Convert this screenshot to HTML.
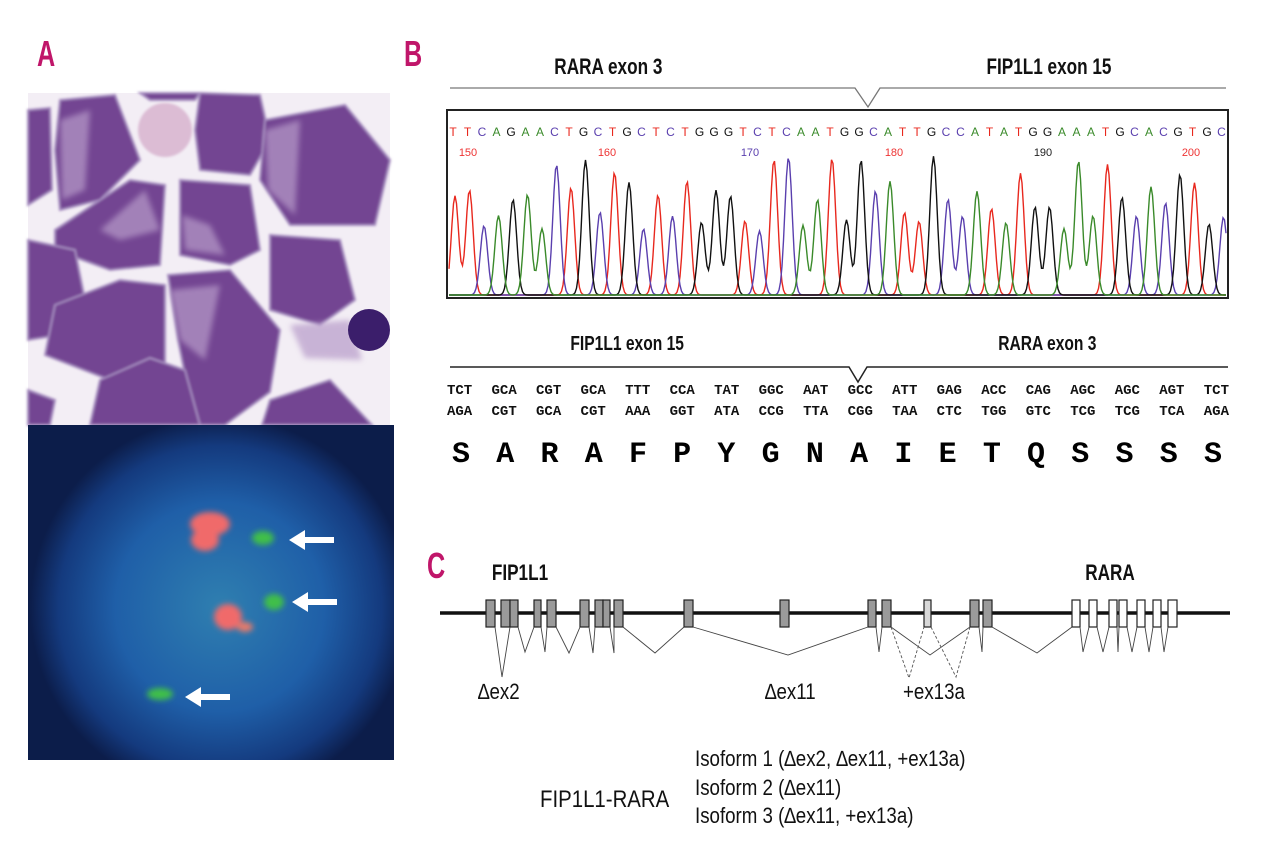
<!DOCTYPE html>
<html><head><meta charset="utf-8">
<style>
html,body{margin:0;padding:0;background:#fff;}
body{width:1280px;height:862px;position:relative;overflow:hidden;font-family:"Liberation Sans",sans-serif;}
.t{position:absolute;white-space:nowrap;}
.lbl{color:#c0166a;font-weight:bold;font-size:36px;transform:scaleX(0.7);transform-origin:left top;}
.hd{font-weight:bold;font-size:22px;transform:scaleX(0.78);transform-origin:center top;color:#111;}
.row{position:absolute;left:447px;width:782px;display:flex;justify-content:space-between;font-family:"Liberation Mono",monospace;font-weight:bold;font-size:14px;color:#111;}
.aa{position:absolute;left:447px;width:770px;display:flex;justify-content:space-between;font-family:"Liberation Mono",monospace;font-weight:bold;font-size:30px;color:#000;}
.iso{font-size:22px;color:#111;transform:scaleX(0.85);transform-origin:left top;}
</style></head><body>

<div class="t lbl" style="left:37px;top:33px;">A</div>
<div class="t lbl" style="left:404px;top:33px;">B</div>
<div class="t lbl" style="left:427px;top:545px;">C</div>

<svg style="position:absolute;left:0;top:0" width="400" height="770">
<defs>
<radialGradient id="glow" cx="220" cy="607" r="190" gradientUnits="userSpaceOnUse">
<stop offset="0" stop-color="#2f7fb0"/><stop offset="0.55" stop-color="#1f5fa8"/><stop offset="0.85" stop-color="#143a7e"/><stop offset="1" stop-color="#0c1d4a"/></radialGradient>
<filter id="bl"><feGaussianBlur stdDeviation="3"/></filter>
<filter id="bl2"><feGaussianBlur stdDeviation="1.2"/></filter>
</defs>
<rect x="28" y="93" width="362" height="332" fill="#f3eef5"/>
<g fill="#734592" stroke="#a58cbf" stroke-width="2" filter="url(#bl2)">
<polygon points="28,110 50,108 52,190 28,205"/>
<polygon points="60,100 115,95 140,160 100,200 60,210 55,150"/>
<polygon points="200,93 260,95 270,140 250,175 200,170 195,130"/>
<polygon points="265,120 345,105 390,160 375,225 290,225 260,180"/>
<polygon points="55,230 130,180 165,185 160,265 110,270 55,250"/>
<polygon points="180,180 250,185 260,250 230,265 180,255"/>
<polygon points="28,240 75,250 85,300 60,335 28,340"/>
<polygon points="270,235 340,240 355,300 320,325 270,310"/>
<polygon points="55,305 120,280 165,285 165,380 110,380 45,355"/>
<polygon points="168,275 230,270 280,330 270,392 225,425 195,425 178,340"/>
<polygon points="100,380 150,358 185,370 200,425 90,425"/>
<polygon points="270,400 330,380 372,425 262,425"/>
<polygon points="28,390 55,400 50,425 28,425"/>
<polygon points="140,93 200,93 195,100 150,100"/>
</g>
<g fill="#b79bc9" opacity="0.7" filter="url(#bl)">
<polygon points="60,120 90,110 85,190 62,200"/>
<polygon points="265,130 300,120 295,215 268,190"/>
<polygon points="182,215 210,225 225,255 185,250"/>
<polygon points="100,230 145,190 160,230 120,240"/>
<polygon points="170,290 220,285 205,360 180,340"/>
<polygon points="290,325 350,320 362,360 305,358"/>
</g>
<circle cx="165" cy="130" r="27" fill="#dcbcd4" filter="url(#bl2)"/>
<circle cx="369" cy="330" r="21" fill="#3b1e6b"/>
<rect x="28" y="425" width="366" height="335" fill="#0c1d4a"/>
<rect x="28" y="425" width="366" height="335" fill="url(#glow)"/>
<g filter="url(#bl)">
<ellipse cx="210" cy="524" rx="20" ry="12" fill="#f06a6a"/>
<ellipse cx="205" cy="540" rx="14" ry="11" fill="#f06a6a"/>
<ellipse cx="228" cy="617" rx="14" ry="13" fill="#f06a6a"/>
<ellipse cx="245" cy="627" rx="8" ry="5" fill="#e87a6a"/>
<ellipse cx="263" cy="538" rx="11" ry="7" fill="#3fbf4a"/>
<ellipse cx="274" cy="602" rx="10" ry="8" fill="#3fbf4a"/>
<ellipse cx="160" cy="694" rx="13" ry="6" fill="#3fbf4a"/>
</g>
<g fill="#fff">
<rect x="300" y="537" width="34" height="6"/><polygon points="289,540 305,530 305,550"/>
<rect x="303" y="599" width="34" height="6"/><polygon points="292,602 308,592 308,612"/>
<rect x="196" y="694" width="34" height="6"/><polygon points="185,697 201,687 201,707"/>
</g>
</svg>

<div class="t hd" style="left:540px;top:54px;width:130px;text-align:center;">RARA exon 3</div>
<div class="t hd" style="left:970px;top:54px;width:150px;text-align:center;">FIP1L1 exon 15</div>
<div class="t hd" style="left:555px;top:333px;width:140px;text-align:center;font-size:20px;">FIP1L1 exon 15</div>
<div class="t hd" style="left:985px;top:333px;width:120px;text-align:center;font-size:20px;">RARA exon 3</div>

<svg style="position:absolute;left:0;top:0" width="1280" height="862">
<polyline points="450,88 855,88 868,107 880,88 1226,88" fill="none" stroke="#777" stroke-width="1.3"/>
<rect x="447" y="110" width="781" height="188" fill="#fff" stroke="#222" stroke-width="2"/>
<polyline points="450,367 849,367 858,382 867,367 1228,367" fill="none" stroke="#222" stroke-width="1.5"/>
<g id="peaks"></g>
<g id="bases" font-family="Liberation Sans,sans-serif" font-size="12"></g>
<g font-family="Liberation Sans,sans-serif" font-size="11" text-anchor="middle">
<text x="468" y="156" fill="#e33">150</text>
<text x="607" y="156" fill="#e33">160</text>
<text x="750" y="156" fill="#5a3fae">170</text>
<text x="894" y="156" fill="#e33">180</text>
<text x="1043" y="156" fill="#222">190</text>
<text x="1191" y="156" fill="#e33">200</text>
</g>

<line x1="440" y1="613" x2="1230" y2="613" stroke="#111" stroke-width="3.5"/>
<g stroke="#222" stroke-width="1.2" fill="#9a9a9a">
<rect x="486" y="600" width="9" height="27"/>
<rect x="501" y="600" width="9" height="27"/>
<rect x="510" y="600" width="8" height="27"/>
<rect x="534" y="600" width="7" height="27"/>
<rect x="547" y="600" width="9" height="27"/>
<rect x="580" y="600" width="9" height="27"/>
<rect x="595" y="600" width="8" height="27"/>
<rect x="603" y="600" width="7" height="27"/>
<rect x="614" y="600" width="9" height="27"/>
<rect x="684" y="600" width="9" height="27"/>
<rect x="780" y="600" width="9" height="27"/>
<rect x="868" y="600" width="8" height="27"/>
<rect x="882" y="600" width="9" height="27"/>
<rect x="924" y="600" width="7" height="27" fill="#d8d8d8"/>
<rect x="970" y="600" width="9" height="27"/>
<rect x="983" y="600" width="9" height="27"/>
</g>
<g stroke="#222" stroke-width="1.2" fill="#fff">
<rect x="1072" y="600" width="8" height="27"/>
<rect x="1089" y="600" width="8" height="27"/>
<rect x="1109" y="600" width="8" height="27"/>
<rect x="1119" y="600" width="8" height="27"/>
<rect x="1137" y="600" width="8" height="27"/>
<rect x="1153" y="600" width="8" height="27"/>
<rect x="1168" y="600" width="9" height="27"/>
</g>
<g fill="none" stroke="#444" stroke-width="0.9">
<polyline points="495,627 502,677 510,627"/>
<polyline points="518,627 525,652 534,627"/>
<polyline points="541,627 545,652 547,627"/>
<polyline points="556,627 569,653 580,627"/>
<polyline points="589,627 593,653 595,627"/>
<polyline points="610,627 614,653 614,627"/>
<polyline points="623,627 655,653 684,627"/>
<polyline points="693,627 788,655 868,627"/>
<polyline points="876,627 879,652 882,627"/>
<polyline points="891,627 930,655 970,627"/>
<polyline points="979,627 982,652 983,627"/>
<polyline points="992,627 1037,653 1072,627"/>
<polyline points="1080,627 1083,652 1089,627"/>
<polyline points="1097,627 1103,652 1109,627"/>
<polyline points="1117,627 1118,652 1119,627"/>
<polyline points="1127,627 1132,652 1137,627"/>
<polyline points="1145,627 1149,652 1153,627"/>
<polyline points="1161,627 1164,652 1168,627"/>
</g>
<g fill="none" stroke="#555" stroke-width="0.9" stroke-dasharray="3,2">
<polyline points="891,627 909,678 924,627"/>
<polyline points="931,627 956,677 970,627"/>
</g>
</svg>

<div class="row" style="top:383px;"><span>TCT</span><span>GCA</span><span>CGT</span><span>GCA</span><span>TTT</span><span>CCA</span><span>TAT</span><span>GGC</span><span>AAT</span><span>GCC</span><span>ATT</span><span>GAG</span><span>ACC</span><span>CAG</span><span>AGC</span><span>AGC</span><span>AGT</span><span>TCT</span></div>
<div class="row" style="top:404px;"><span>AGA</span><span>CGT</span><span>GCA</span><span>CGT</span><span>AAA</span><span>GGT</span><span>ATA</span><span>CCG</span><span>TTA</span><span>CGG</span><span>TAA</span><span>CTC</span><span>TGG</span><span>GTC</span><span>TCG</span><span>TCG</span><span>TCA</span><span>AGA</span></div>
<div class="aa" style="top:438px;left:452px;"><span>S</span><span>A</span><span>R</span><span>A</span><span>F</span><span>P</span><span>Y</span><span>G</span><span>N</span><span>A</span><span>I</span><span>E</span><span>T</span><span>Q</span><span>S</span><span>S</span><span>S</span><span>S</span></div>

<div class="t hd" style="left:470px;top:560px;width:100px;text-align:center;">FIP1L1</div>
<div class="t hd" style="left:1070px;top:560px;width:80px;text-align:center;">RARA</div>
<div class="t iso" style="left:478px;top:679px;">∆ex2</div>
<div class="t iso" style="left:765px;top:679px;">∆ex11</div>
<div class="t iso" style="left:903px;top:679px;">+ex13a</div>
<div class="t iso" style="left:540px;top:786px;font-size:24px;">FIP1L1-RARA</div>
<div class="t iso" style="left:695px;top:746px;">Isoform 1 (∆ex2, ∆ex11, +ex13a)</div>
<div class="t iso" style="left:695px;top:775px;">Isoform 2 (∆ex11)</div>
<div class="t iso" style="left:695px;top:803px;">Isoform 3 (∆ex11, +ex13a)</div>

<script>
(function(){
var NS="http://www.w3.org/2000/svg";
var seq="TTCAGAACTGCTGCTCTGGGTCTCAATGGCATTGCCATATGGAAATGCACGTGC";
var col={T:"#e8281e",C:"#5a3fae",G:"#111",A:"#3a8a2a"};
var bases=document.getElementById("bases"),peaks=document.getElementById("peaks");
var seed=7;function rnd(){seed=(seed*9301+49297)%233280;return seed/233280;}
var H={T:[],C:[],G:[],A:[]};
for(var i=0;i<seq.length;i++){
 var b=seq[i],x=453+i*14.5;
 var t=document.createElementNS(NS,"text");t.setAttribute("x",x);t.setAttribute("y",136);
 t.setAttribute("fill",col[b]);t.setAttribute("text-anchor","middle");t.textContent=b;bases.appendChild(t);
 var h=60+rnd()*80; if(i==9||i==28)h=135;
 H[b].push([x+2,h]);
}
for(var k in H){
 var d="",n=0;
 for(var px=449;px<=1226;px+=1.5){
  var y=0;H[k].forEach(function(p){var dx=(px-p[0])/5.2;y+=p[1]*Math.exp(-dx*dx);});
  d+=(n++?"L":"M")+px.toFixed(1)+","+(295-Math.min(y,140)).toFixed(1);
 }
 var p=document.createElementNS(NS,"path");p.setAttribute("d",d);p.setAttribute("fill","none");
 p.setAttribute("stroke",col[k]);p.setAttribute("stroke-width","1.4");peaks.appendChild(p);
}
})();
</script>
</body></html>
